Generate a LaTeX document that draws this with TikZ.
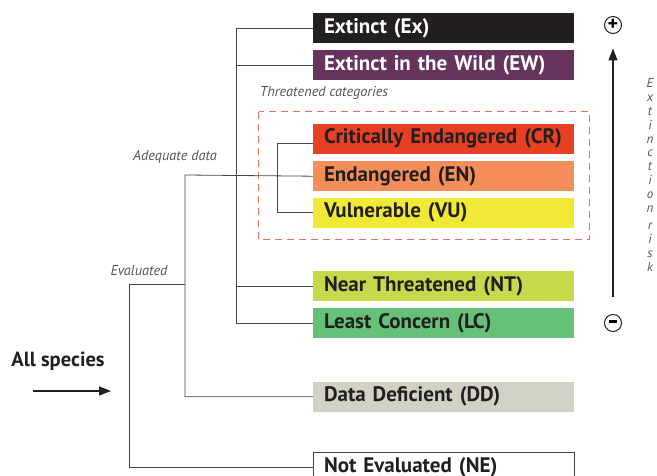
\documentclass[tikz,border=0pt]{standalone}
\usepackage{fontspec}
\setmainfont{PT Sans}
\usepackage{xcolor}
\usetikzlibrary{arrows.meta,positioning}

\definecolor{inkblack}{RGB}{35,31,32}
\definecolor{exfill}{RGB}{35,31,32}
\definecolor{ewfill}{RGB}{102,51,92}
\definecolor{crfill}{RGB}{232,64,37}
\definecolor{enfill}{RGB}{245,142,88}
\definecolor{vufill}{RGB}{240,233,54}
\definecolor{ntfill}{RGB}{199,216,74}
\definecolor{lcfill}{RGB}{102,193,120}
\definecolor{ddfill}{RGB}{209,209,198}
\definecolor{treegray}{RGB}{70,70,70}
\definecolor{labelgray}{RGB}{85,85,85}
\definecolor{dashred}{RGB}{240,112,96}

\begin{document}
\begin{tikzpicture}[
  x=1pt, y=-1pt,
  catbox/.style={minimum width=261pt, minimum height=30pt, text width=239pt,
    inner xsep=11pt, inner ysep=0pt, align=left,
    font=\fontsize{21}{22}\selectfont\bfseries, text=inkblack},
  tree/.style={draw=treegray, line width=0.8pt},
  tag/.style={font=\fontsize{14.3}{16}\selectfont\itshape, text=labelgray},
  sign/.style={circle, draw=inkblack, line width=1pt, minimum size=17pt, inner sep=0pt},
  riskarrow/.style={-{Triangle[length=12pt,width=9pt]}, line width=1.2pt, draw=inkblack}
]
\useasboundingbox (0,0) rectangle (657,476);

% categories
\node (ex) [catbox, fill=exfill, text=white] at (443.5,28) {Extinct (Ex)};
\node (ew) [catbox, fill=ewfill, text=white, below=7pt of ex] {Extinct in the Wild (EW)};
\node (cr) [catbox, fill=crfill, below=43pt of ew] {Critically Endangered (CR)};
\node (en) [catbox, fill=enfill, below=7pt of cr] {Endangered (EN)};
\node (vu) [catbox, fill=vufill, below=6pt of en] {Vulnerable (VU)};
\node (nt) [catbox, fill=ntfill, below=43pt of vu] {Near Threatened (NT)};
\node (lc) [catbox, fill=lcfill, below=7pt of nt] {Least Concern (LC)};
\node (dd) [catbox, fill=ddfill, below=43pt of lc] {Data Deficient (DD)};
\node (ne) [catbox, fill=white, draw=treegray, line width=0.8pt, below=40pt of dd] {Not Evaluated (NE)};

% threatened group
\draw[draw=dashred, line width=0.8pt, dash pattern=on 7pt off 5pt]
  ([shift={(-54pt,12pt)}]cr.north west) rectangle ([shift={(15pt,-12pt)}]vu.south east);
\node (thr) [tag] at (324,93) {Threatened categories};

% labels
\node (adqlbl) [tag] at (175,157) {Adequate data};
\node (evlbl) [tag] at (139,271) {Evaluated};
\node (all) [font=\fontsize{20.5}{22}\selectfont\bfseries, text=inkblack] at (58,361) {All species};
\coordinate (allin) at (33,391);
\coordinate (allout) at (111,391);
\draw[riskarrow] (allin) -- (allout);

% tree
\coordinate (adq) at (185,175);
\coordinate (evl) at (129,284);
\draw[tree] (ex.west) -- ++(-76pt,0) |- (lc.west);
\draw[tree] (ew.west) -- ++(-76pt,0);
\draw[tree] (nt.west) -- ++(-76pt,0);
\draw[tree] ([yshift=-5pt]cr.west) -- ++(-35pt,0) |- (vu.west);
\draw[tree] (en.west) -- (adq) |- (dd.west);
\draw[tree] (evl -| adq) -- (evl) |- (ne.west);

% risk scale
\node (plus) [sign] at (613,25) {\fontsize{20}{20}\selectfont\bfseries +};
\node (minus) [sign] at (613,323) {\rule[2.6pt]{8pt}{2.6pt}};
\draw[riskarrow, shorten <=16.5pt, shorten >=14.5pt] (minus) -- (plus);
\node (risk) [tag, align=center, font=\fontsize{13}{13.8}\selectfont\itshape] at (650,175)
  {E\\x\\t\\i\\n\\c\\t\\i\\o\\n\\[4pt]r\\i\\s\\k};
\end{tikzpicture}
\end{document}
